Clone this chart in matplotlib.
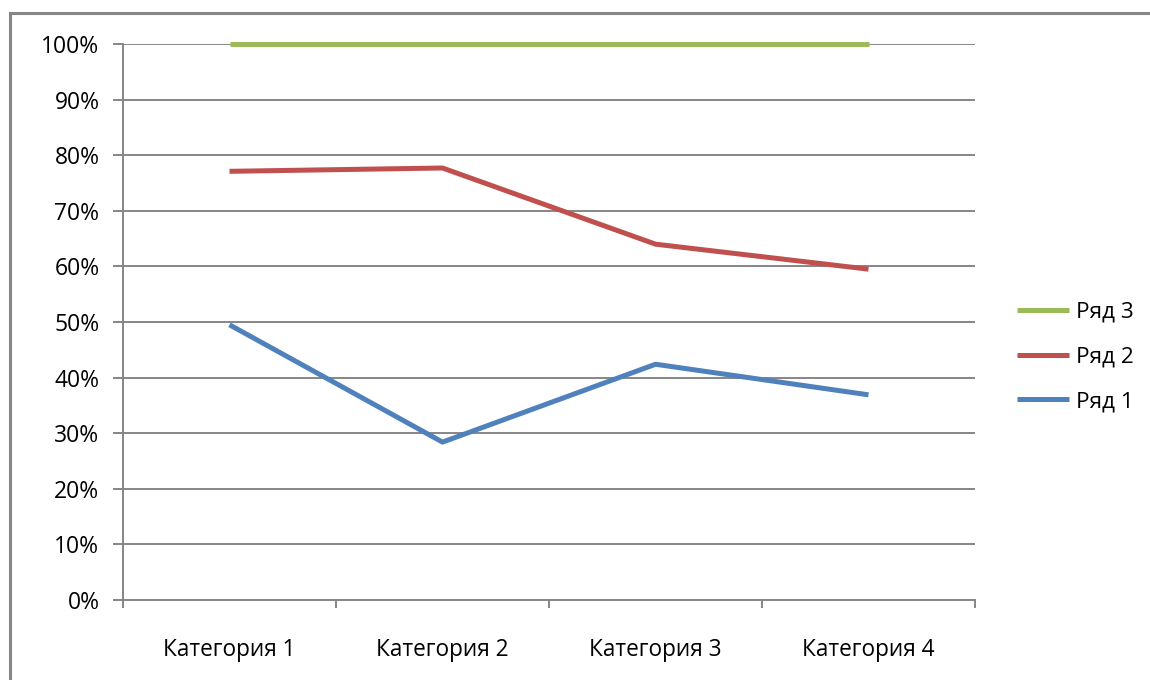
import matplotlib
matplotlib.use("Agg")
import matplotlib.pyplot as plt
from matplotlib.patches import Rectangle
from matplotlib.ticker import FixedLocator, NullFormatter

categories = ["Категория 1", "Категория 2", "Категория 3", "Категория 4"]
series_names = ["Ряд 1", "Ряд 2", "Ряд 3"]
row1 = [49.5, 28.4, 42.4, 36.9]
row2 = [77.1, 77.7, 64.0, 59.5]
row3 = [100, 100, 100, 100]
y_ticks = [0, 10, 20, 30, 40, 50, 60, 70, 80, 90, 100]
y_labels = [f"{v}%" for v in y_ticks]

colors = ["#4F81BD", "#C0504D", "#9BBB59"]
grid_c = "#868686"

plt.rcParams['font.family'] = ['Open Sans', 'DejaVu Sans']

W, H = 1150, 680
fig = plt.figure(figsize=(W / 100, H / 100), dpi=100)
ax = fig.add_axes([123 / W, 1 - 600 / H, (975 - 123) / W, (600 - 44) / H])

# outer border
fig.patches.append(Rectangle((10 / W, -0.05), 1.2, 1 - 13 / H + 0.05,
                             transform=fig.transFigure, fill=False,
                             edgecolor=grid_c, linewidth=2.2, zorder=0))

x = [0.5, 1.5, 2.5, 3.5]
handles = []
for vals, name, c in zip([row1, row2, row3], series_names, colors):
    h, = ax.plot(x, vals, color=c, linewidth=3.6, solid_capstyle='butt',
                 label=name, zorder=3, clip_on=False)
    handles.append(h)

ax.set_xlim(0, 4)
ax.set_ylim(0, 100)
ax.set_yticks(y_ticks)
ax.set_yticklabels(y_labels)
for y in y_ticks:
    ax.axhline(y, color=grid_c, linewidth=1.4, zorder=1)

ax.xaxis.set_major_locator(FixedLocator([0, 1, 2, 3, 4]))
ax.xaxis.set_major_formatter(NullFormatter())
ax.xaxis.set_minor_locator(FixedLocator(x))
ax.set_xticklabels(categories, minor=True)
ax.tick_params(axis='x', which='major', direction='out', length=6, width=1.4, color=grid_c)
ax.tick_params(axis='x', which='minor', length=0, pad=27, labelsize=16.3)
ax.tick_params(axis='y', direction='out', length=7, width=1.4, color=grid_c, labelsize=16.5, pad=10)

for s in ['top', 'right']:
    ax.spines[s].set_visible(False)
for s in ['left', 'bottom']:
    ax.spines[s].set_color(grid_c)
    ax.spines[s].set_linewidth(1.4)

leg = fig.legend(handles[::-1], series_names[::-1], loc='center left',
                 bbox_to_anchor=(1008 / W, 1 - 357 / H), frameon=False,
                 fontsize=16.2, handlelength=2.3, handletextpad=0.3,
                 labelspacing=1.05, borderaxespad=0)

fig.savefig("out.png", dpi=100)
